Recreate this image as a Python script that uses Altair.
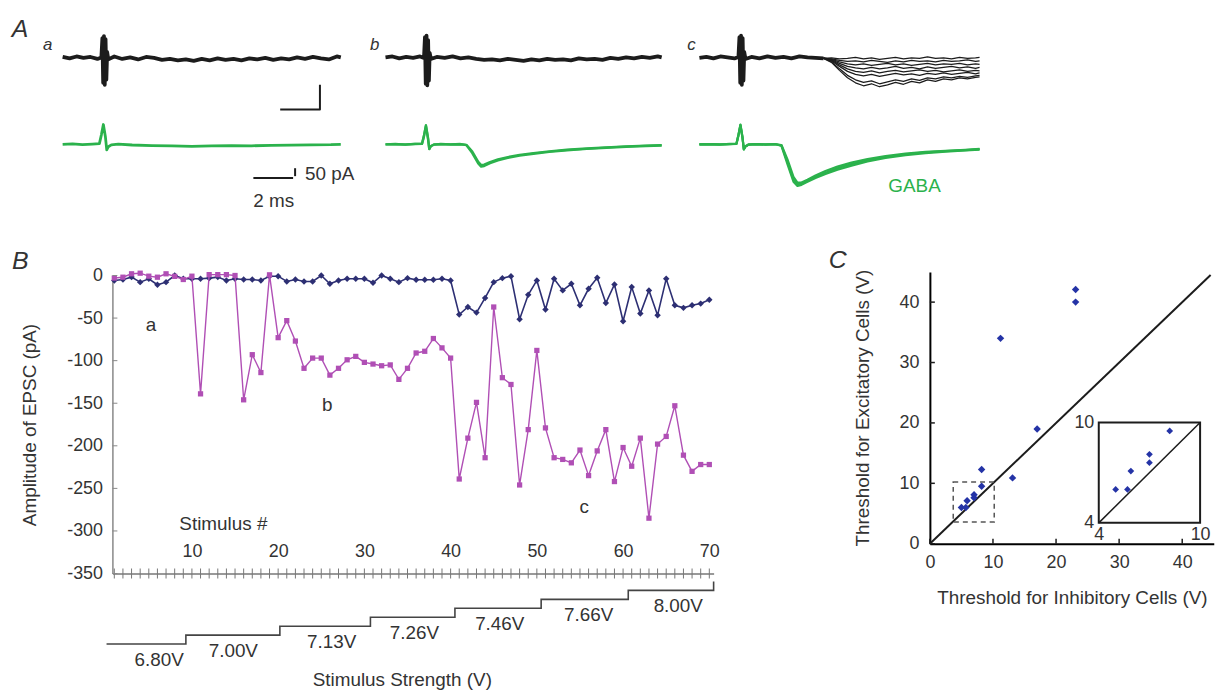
import altair as alt
import pandas as pd

FONT = "Liberation Sans"
TXT = "#333333"
BLACK = "#1c1c1c"
GREEN = "#2bb24c"
NAVY = "#2d2f73"
MAGENTA = "#b04fb5"
CBLUE = "#2433a6"
W, H = 1215, 685


def P(v):
    # picture pixel -> chart pixel (page margin is 8px)
    return v - 8


def sc(domain, rng):
    return alt.Scale(domain=domain, range=rng, nice=False, zero=False)


# ---------------- Panel A : traces (time in ms, current in pA) ----------------
t_trace = [0.0, 0.35, 0.7, 1.05, 1.4, 1.75, 1.95, 2.0, 2.04, 2.08, 2.12, 2.16, 2.2, 2.24, 2.3,
           2.6, 3.0, 3.4, 3.8, 4.2, 4.6, 5.0, 5.4, 5.8, 6.2, 6.6, 7.0, 7.4, 7.8, 8.2, 8.6, 9.0,
           9.4, 9.8, 10.2, 10.6, 11.0, 11.4, 11.8, 12.2, 12.6, 13.0, 13.4, 13.8, 14.0]
black_a = [2, -1, 3, 0, 2, -2, 1, 40, -50, 44, -54, 38, -44, 12, -3, 3, -2, 1, -3, 2, 0, -4, -2,
           -5, -3, -6, -2, -5, -1, -4, -2, -5, -1, -3, 0, -4, -1, -3, 1, -2, 2, -1, -3, 3, 1]
black_b = [1, 3, -1, 2, 0, 3, 0, 42, -52, 45, -55, 36, -46, 10, -2, 2, 0, 3, -1, 1, -2, -4, -3,
           -5, -2, -4, -6, -3, -5, -2, -4, -3, -5, -1, -3, -2, -4, 0, -2, 1, -1, 2, 0, 3, 1]
t_c_base = [0.0, 0.35, 0.7, 1.05, 1.4, 1.75, 1.95, 2.0, 2.04, 2.08, 2.12, 2.16, 2.2, 2.24, 2.3,
            2.6, 3.0, 3.4, 3.8, 4.2, 4.6, 5.0, 5.4, 5.8, 6.2]
black_c_base = [0, 2, -1, 3, 1, -1, 2, 42, -50, 45, -54, 40, -46, 12, -2, 2, -1, 3, 0, 2, -1, 3,
                1, 0, -1]
t_sweep = [6.2, 6.6, 7.0, 7.4, 7.8, 8.2, 8.6, 9.0, 9.4, 9.8, 10.2, 10.6, 11.0, 11.4, 11.8, 12.2,
           12.6, 13.0, 13.4, 13.8, 14.0]
c_sweep1 = [-1, 0, -2, -1, 1, -2, 0, -3, -1, 1, -2, 0, -1, 2, -1, 0, -2, 1, -1, 0, 1]
c_sweep2 = [-1, -2, -5, -7, -6, -8, -5, -7, -9, -6, -8, -5, -7, -6, -8, -5, -7, -6, -4, -7, -6]
c_sweep3 = [0, -3, -8, -12, -14, -12, -15, -13, -11, -14, -12, -15, -13, -11, -14, -12, -13,
            -11, -14, -12, -13]
c_sweep4 = [-1, -4, -11, -17, -20, -22, -19, -22, -20, -17, -21, -19, -22, -18, -21, -19, -17,
            -20, -18, -21, -19]
c_sweep5 = [0, -5, -14, -22, -27, -29, -26, -30, -27, -25, -28, -26, -24, -27, -25, -28, -26,
            -24, -27, -25, -26]
c_sweep6 = [-1, -6, -17, -27, -33, -36, -33, -37, -34, -31, -34, -32, -35, -31, -33, -30, -33,
            -31, -29, -32, -30]
c_sweep7 = [0, -8, -22, -35, -44, -49, -46, -52, -48, -44, -47, -42, -45, -40, -42, -38, -40,
            -37, -39, -36, -35]
c_sweep8 = [-1, -9, -25, -40, -50, -56, -52, -58, -54, -49, -53, -47, -50, -44, -47, -42, -44,
            -40, -42, -39, -38]

t_green_a = [0, 0.5, 1.0, 1.5, 1.85, 1.95, 2.05, 2.15, 2.22, 2.3, 2.45, 2.8, 3.5, 4.5, 5.5, 6.5,
             7.5, 8.5, 9.5, 10.5, 11.5, 12.5, 13.5, 14.0]
green_a = [0, 3, -2, 2, 5, 60, 125, 50, -35, -15, -3, 2, -4, -8, -10, -12, -10, -8, -9, -6, -5,
           -3, -2, 0]
t_green_b = [0, 0.5, 1.0, 1.5, 1.85, 1.95, 2.05, 2.15, 2.22, 2.3, 2.45, 2.8, 3.3, 3.8, 4.1, 4.4,
             4.7, 4.85, 5.0, 5.3, 5.7, 6.2, 6.8, 7.5, 8.3, 9.2, 10.2, 11.2, 12.2, 13.2, 14.0]
green_b1 = [0, 2, -2, 3, 4, 55, 120, 45, -30, -12, -2, 2, -1, 1, -3, -45, -110, -130, -128, -112,
            -95, -80, -66, -55, -44, -34, -26, -19, -13, -8, -5]
green_b2 = [0, 1, -1, 2, 3, 50, 115, 40, -28, -10, -1, 1, 0, 2, -5, -55, -120, -140, -136, -118,
            -100, -85, -71, -59, -47, -37, -28, -21, -15, -10, -7]
t_green_c = [0, 0.5, 1.0, 1.5, 1.85, 1.95, 2.05, 2.15, 2.22, 2.3, 2.45, 2.8, 3.3, 3.8, 4.1, 4.4,
             4.7, 4.9, 5.1, 5.4, 5.8, 6.3, 6.9, 7.6, 8.4, 9.3, 10.3, 11.3, 12.3, 13.3, 14.0]
green_c1 = [0, 2, -1, 3, 4, 60, 125, 48, -32, -14, -2, 1, -2, 1, -6, -110, -220, -250, -246,
            -228, -205, -178, -150, -124, -100, -80, -62, -50, -42, -36, -30]
green_c2 = [0, 1, -2, 2, 3, 55, 118, 42, -30, -12, -1, 2, 0, 2, -10, -125, -235, -262, -255,
            -236, -212, -186, -160, -134, -108, -86, -68, -56, -46, -38, -33]
green_c3 = [0, 2, 0, 1, 4, 58, 122, 46, -31, -13, -2, 1, -1, 0, -4, -95, -205, -240, -240, -222,
            -196, -168, -140, -114, -92, -74, -58, -47, -40, -34, -28]

# scale bars: 2 ms x 50 pA
bar1_t = [10.95, 12.95, 12.95]
bar1_v = [-104, -104, -54]
bar2_t = [9.6, 11.6]
bar2_v = [-212, -212]
bar2_tick_t = [11.7, 11.7]
bar2_tick_v = [-150, -200]

# ---------------- Panel B ----------------
stim = list(range(1, 71))
blue_epsc = [-5.8, -4.7, -1.9, -7.8, -3.9, -10.9, -7.8, 0, -3.9, -3.9,
             -3.9, -3.1, -1.9, -5.8, -3.9, -4.7, -4.7, -5.8, -0.8, -0.8,
             -7.0, -4.7, -7.0, -7.0, 0, -9.7, -5.8, -3.9, -3.9, -3.9,
             -8.6, 0, -3.9, -7.8, -3.1, -5.0, -5.0, -5.0, -3.9, -5.8,
             -45.9, -37.0, -43.6, -26.4, -7.8, -3.1, -0.8, -51.3, -22.6, -5.8,
             -40.0, -3.9, -17.5, -9.7, -35.0, -15.6, -2.7, -32.3, -10.5, -53.7,
             -13.6, -44.7, -17.5, -46.7, -3.9, -35.0, -38.0, -35.0, -33.0, -28.4]
mag_epsc = [-3, -2, 2, 2.7, -0.8, -2, 2, -1, -4.7, -0.8,
            -139, 1, 1, 1, 0, -146, -93, -114, 0.8, -73,
            -53, -77, -109, -97, -97, -117, -109, -99, -95, -102,
            -104, -106, -105, -122, -109, -91, -89, -74, -85, -97,
            -239, -191, -149, -214, -37, -120, -128, -246, -181, -88,
            -179, -214, -216, -220, -205, -235, -206, -181, -242, -202,
            -224, -191, -285, -198, -189, -153, -211, -230, -222, -222]
epsc_ticks = [0, -50, -100, -150, -200, -250, -300, -350]
stim_labels = [10, 20, 30, 40, 50, 60, 70]

step_x = [0.1, 9.3, 20.2, 30.7, 40.5, 50.5, 60.6, 70.5, 70.5]
step_level = [0, 1, 2, 3, 4, 5, 6, 6, 7]
volt_labels = ["6.80V", "7.00V", "7.13V", "7.26V", "7.46V", "7.66V", "8.00V"]
volt_label_x = [6.2, 14.8, 26.2, 35.8, 45.7, 56.0, 66.4]
volt_label_level = [0, 1, 2, 3, 4, 5, 6]

# ---------------- Panel C ----------------
inh_thr = [5.0, 5.7, 5.9, 7.0, 7.0, 8.2, 8.2, 13.1, 17.0, 11.2, 23.1, 23.1]
exc_thr = [6.0, 6.0, 7.1, 7.6, 8.1, 9.5, 12.3, 10.9, 19.0, 34.0, 40.0, 42.1]
c_ticks = [0, 10, 20, 30, 40]
inset_ticks = [4, 10]
diag = [0, 44.5]
inset_diag = [4, 10]
zoom_box = dict(x=[3.7], x2=[10.2], y=[3.6], y2=[10.2])

# ---------------- scales (placement of each panel) ----------------
A_a_x = sc([0, 14], [P(63), P(343)])
A_b_x = sc([0, 14], [P(388), P(666)])
A_c_x = sc([0, 14], [P(704), P(986)])
BLK_y = sc([-100, 100], [P(56) + 50, P(56) - 50])
GRN_y = sc([-300, 300], [P(143) + 48, P(143) - 48])
B_x = sc([0.78, 70.5], [P(113.1), P(718.3)])
B_y = sc([-350, 0], [P(575), P(275)])
ST_y = sc([0, 7], [P(646), P(583)])
C_x = sc([0, 45], [P(936), P(1221.75)])
C_y = sc([0, 45], [P(545), P(271.4)])
I_x = sc([4, 10], [P(1106), P(1208)])
I_y = sc([4, 10], [P(524), P(423)])


def enc(xs, ys, xf="x", yf="y", xaxis=None, yaxis=None):
    return dict(x=alt.X(f"{xf}:Q", scale=xs, axis=xaxis),
                y=alt.Y(f"{yf}:Q", scale=ys, axis=yaxis))


def trace(t, v, xs, ys, color, width):
    df = pd.DataFrame({"x": t, "y": v})
    return alt.Chart(df).mark_line(color=color, strokeWidth=width, strokeJoin="round").encode(
        **enc(xs, ys))


def sweeps(t, vs, xs, ys, color, width):
    rows = []
    for k, v in enumerate(vs):
        for a, b in zip(t, v):
            rows.append({"x": a, "y": b, "s": k})
    df = pd.DataFrame(rows)
    return alt.Chart(df).mark_line(color=color, strokeWidth=width, strokeJoin="round").encode(
        detail="s:N", **enc(xs, ys))


def text(labels, xv, yv, xs, ys, size=19, color=TXT, align="center", style="normal", dy=0):
    df = pd.DataFrame({"x": xv, "y": yv, "label": labels})
    return alt.Chart(df).mark_text(font=FONT, fontSize=size, color=color, align=align,
                                   baseline="middle", fontStyle=style, dy=dy).encode(
        text="label:N", **enc(xs, ys))


layers = []

# ---- Panel A
layers.append(trace(t_trace, black_a, A_a_x, BLK_y, BLACK, 3.8))
layers.append(trace(t_trace, black_b, A_b_x, BLK_y, BLACK, 3.8))
layers.append(sweeps(t_sweep, [c_sweep1, c_sweep2, c_sweep3, c_sweep4, c_sweep5, c_sweep6,
                               c_sweep7, c_sweep8], A_c_x, BLK_y, BLACK, 1.3))
layers.append(trace(t_c_base, black_c_base, A_c_x, BLK_y, BLACK, 3.8))
layers.append(trace(t_green_a, green_a, A_a_x, GRN_y, GREEN, 2.8))
layers.append(sweeps(t_green_b, [green_b1, green_b2], A_b_x, GRN_y, GREEN, 2.4))
layers.append(sweeps(t_green_c, [green_c1, green_c2, green_c3], A_c_x, GRN_y, GREEN, 2.2))
layers.append(trace(bar1_t, bar1_v, A_a_x, BLK_y, BLACK, 2))
layers.append(trace(bar2_t, bar2_v, A_a_x, GRN_y, BLACK, 2))
layers.append(trace(bar2_tick_t, bar2_tick_v, A_a_x, GRN_y, BLACK, 2))
layers.append(text(["50 pA"], [12.2], [-187], A_a_x, GRN_y, align="left"))
layers.append(text(["2 ms"], [9.6], [-356], A_a_x, GRN_y, align="left"))
layers.append(text(["GABA"], [10.75], [-262], A_c_x, GRN_y, color=GREEN))
layers.append(text(["A"], [-2.15], [58], A_a_x, BLK_y, size=25, style="italic"))
layers.append(text(["a"], [-0.75], [26], A_a_x, BLK_y, size=17, style="italic"))
layers.append(text(["b"], [-0.55], [26], A_b_x, BLK_y, size=17, style="italic"))
layers.append(text(["c"], [-0.4], [26], A_c_x, BLK_y, size=17, style="italic"))

# ---- Panel B
b_yaxis = alt.Axis(orient="left", offset=-P(113.1), values=epsc_ticks, ticks=False,
                   labelPadding=10, labelFont=FONT, labelFontSize=18, labelColor=TXT,
                   labelFlush=False,
                   labelExpr="datum.value == 0 ? '0' : '-' + abs(datum.value)",
                   domainColor="#888888", domainWidth=1.5, grid=False,
                   title="Amplitude of EPSC (pA)", titleFont=FONT, titleFontSize=19,
                   titleFontWeight="normal", titleColor=TXT, titleX=30 - 113, titleY=P(425),
                   titleAngle=270, titleAlign="center", titleBaseline="middle")
stim_axis = alt.Axis(orient="top", offset=-P(575), values=stim_labels, ticks=False,
                     labelPadding=13, labelFont=FONT, labelFontSize=18, labelColor=TXT,
                     labelFlush=False, domainColor="#777777", domainWidth=1.5, grid=False,
                     title="Stimulus #", titleFont=FONT, titleFontSize=19,
                     titleFontWeight="normal", titleColor=TXT, titleX=P(180), titleY=525 - 575,
                     titleAngle=0, titleAlign="left", titleBaseline="middle")

df_blue = pd.DataFrame({"x": stim, "y": blue_epsc})
df_mag = pd.DataFrame({"x": stim, "y": mag_epsc})
layers.append(alt.Chart(df_blue).mark_line(color=NAVY, strokeWidth=1.6).encode(
    **enc(B_x, B_y, yaxis=b_yaxis)))
layers.append(alt.Chart(df_blue).mark_point(shape="diamond", filled=True, size=42, color=NAVY,
                                            opacity=1).encode(**enc(B_x, B_y)))
layers.append(alt.Chart(df_mag).mark_line(color=MAGENTA, strokeWidth=1.4).encode(
    **enc(B_x, B_y)))
layers.append(alt.Chart(df_mag).mark_square(filled=True, size=28, color=MAGENTA,
                                            opacity=1).encode(**enc(B_x, B_y)))
df_sticks = pd.DataFrame({"x": stim, "y": [epsc_ticks[-1]] * len(stim)})
layers.append(alt.Chart(df_sticks).mark_tick(orient="vertical", size=10, thickness=1,
                                             color="#777777", opacity=1).encode(
    **enc(B_x, B_y, xaxis=stim_axis)))
df_yt = pd.DataFrame({"x": [0.78] * len(epsc_ticks), "y": epsc_ticks})
layers.append(alt.Chart(df_yt).mark_tick(orient="horizontal", size=5, thickness=1,
                                         color="#888888", xOffset=2.5, opacity=1).encode(
    **enc(B_x, B_y)))
df_step = pd.DataFrame({"x": step_x, "y": step_level, "i": list(range(len(step_x)))})
layers.append(alt.Chart(df_step).mark_line(interpolate="step-after", color="#444444",
                                           strokeWidth=1.6).encode(
    order="i:Q", **enc(B_x, ST_y)))
layers.append(text(volt_labels, volt_label_x, volt_label_level, B_x, ST_y, dy=16))
layers.append(text(["Stimulus Strength (V)"], [34.4], [-4], B_x, ST_y))
layers.append(text(["a", "b", "c"], [5.26, 25.7, 55.5], [-58, -152, -272], B_x, B_y))
layers.append(text(["B"], [-9.9], [17.5], B_x, B_y, size=25, style="italic"))

# ---- Panel C
c_yaxis = alt.Axis(orient="left", offset=-P(936), values=c_ticks, ticks=False, labelPadding=11,
                   labelFont=FONT, labelFontSize=18, labelColor=TXT, labelFlush=False,
                   domainColor="black", domainWidth=2, grid=False,
                   title="Threshold for Excitatory Cells (V)", titleFont=FONT, titleFontSize=19,
                   titleFontWeight="normal", titleColor=TXT, titleX=868 - 936, titleY=P(408),
                   titleAngle=270, titleAlign="center", titleBaseline="middle")
c_xaxis = alt.Axis(orient="bottom", offset=-(H - P(545)), values=c_ticks, ticks=False,
                   labelPadding=10, labelFont=FONT, labelFontSize=18, labelColor=TXT,
                   labelFlush=False, domainColor="black", domainWidth=2, grid=False,
                   title="Threshold for Inhibitory Cells (V)", titleFont=FONT, titleFontSize=19,
                   titleFontWeight="normal", titleColor=TXT, titleX=P(1079), titleY=599 - 545,
                   titleAlign="center", titleBaseline="middle")
df_diag = pd.DataFrame({"x": diag, "y": diag})
layers.append(alt.Chart(df_diag).mark_line(color=BLACK, strokeWidth=2).encode(
    **enc(C_x, C_y, xaxis=c_xaxis, yaxis=c_yaxis)))
df_cyt = pd.DataFrame({"x": [0] * len(c_ticks), "y": c_ticks})
layers.append(alt.Chart(df_cyt).mark_tick(orient="horizontal", size=5, thickness=1.5,
                                          color=BLACK, xOffset=2.5, opacity=1).encode(
    **enc(C_x, C_y)))
df_cxt = pd.DataFrame({"x": c_ticks, "y": [0] * len(c_ticks)})
layers.append(alt.Chart(df_cxt).mark_tick(orient="vertical", size=5, thickness=1.5,
                                          color=BLACK, yOffset=-2.5, opacity=1).encode(
    **enc(C_x, C_y)))
df_box = pd.DataFrame(zoom_box)
layers.append(alt.Chart(df_box).mark_rect(fillOpacity=0, stroke="#555555", strokeWidth=1.5,
                                          strokeDash=[5, 4]).encode(
    x=alt.X("x:Q", scale=C_x, axis=None), x2="x2:Q",
    y=alt.Y("y:Q", scale=C_y, axis=None), y2="y2:Q"))
df_pts = pd.DataFrame({"x": inh_thr, "y": exc_thr})
layers.append(alt.Chart(df_pts).mark_point(shape="diamond", filled=True, size=56, color=CBLUE,
                                           opacity=1).encode(**enc(C_x, C_y)))

# inset
i_yaxis = alt.Axis(orient="left", offset=-P(1106), values=inset_ticks, ticks=False,
                   labelPadding=5, labelFont=FONT, labelFontSize=18, labelColor=TXT,
                   labelFlush=False, domain=False, grid=False, title=None)
i_xaxis = alt.Axis(orient="bottom", offset=-(H - P(524)), values=inset_ticks, ticks=False,
                   labelPadding=3, labelFont=FONT, labelFontSize=18, labelColor=TXT,
                   labelFlush=False, domain=False, grid=False, title=None)
df_ibox = pd.DataFrame({"x": [inset_ticks[0]], "x2": [inset_ticks[1]],
                        "y": [inset_ticks[0]], "y2": [inset_ticks[1]]})
layers.append(alt.Chart(df_ibox).mark_rect(fillOpacity=0, stroke=BLACK, strokeWidth=2).encode(
    x=alt.X("x:Q", scale=I_x, axis=i_xaxis), x2="x2:Q",
    y=alt.Y("y:Q", scale=I_y, axis=i_yaxis), y2="y2:Q"))
df_idiag = pd.DataFrame({"x": inset_diag, "y": inset_diag})
layers.append(alt.Chart(df_idiag).mark_line(color=BLACK, strokeWidth=1.5).encode(
    **enc(I_x, I_y)))
df_ipts = pd.DataFrame({"x": [a for a, b in zip(inh_thr, exc_thr) if 4 <= a <= 10 and 4 <= b <= 10],
                        "y": [b for a, b in zip(inh_thr, exc_thr) if 4 <= a <= 10 and 4 <= b <= 10]})
layers.append(alt.Chart(df_ipts).mark_point(shape="diamond", filled=True, size=46, color=CBLUE,
                                            opacity=1).encode(**enc(I_x, I_y)))
layers.append(text(["C"], [-14.6], [46.9], C_x, C_y, size=25, style="italic"))

chart = alt.layer(*layers).resolve_scale(x="independent", y="independent").properties(
    width=W, height=H, padding=0, autosize=alt.AutoSizeParams(type="none"),
    background="white").configure_view(stroke=None)

chart.save("out.html", embed_options={"renderer": "svg", "actions": False})
